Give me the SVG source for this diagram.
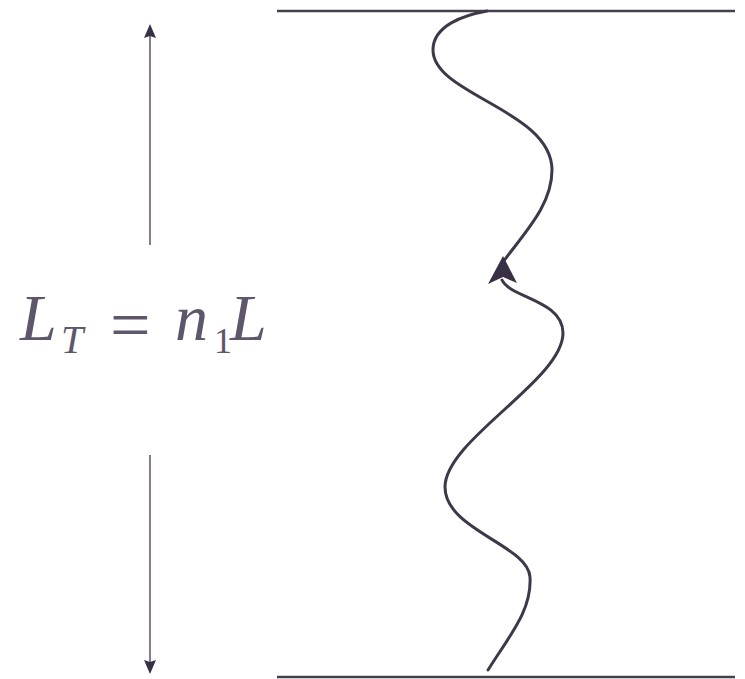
<svg xmlns="http://www.w3.org/2000/svg" width="745" height="679" viewBox="0 0 745 679">
<style>
.bound{stroke:#45404c;stroke-width:2.5;fill:none}
.dim{stroke:#6a5a78;stroke-width:1.6;fill:none}
.head{fill:#3a3045}
.wave{stroke:#3e3848;stroke-width:3;fill:none;stroke-linecap:round}
.lab{font-family:"Liberation Serif","DejaVu Serif",serif;fill:#5e566a}
</style>
<rect width="745" height="679" fill="#ffffff"/>
<g id="top-boundary"><line class="bound" x1="277" y1="11" x2="735" y2="11"/></g>
<g id="bottom-boundary"><line class="bound" x1="277" y1="677" x2="735" y2="677"/></g>
<g id="label">
<text class="lab" font-size="66"><tspan x="20" y="340" font-style="italic">L</tspan><tspan x="61" y="353" font-size="40" font-style="italic">T</tspan><tspan x="110" y="349" font-size="72">=</tspan><tspan x="175" y="340" font-style="italic">n</tspan><tspan x="214" y="353" font-size="36">1</tspan><tspan x="230" y="340" font-style="italic">L</tspan></text>
</g>
<g id="connectors">
<line class="dim" x1="150" y1="34" x2="150" y2="245"/>
<polygon class="head" points="150,24 156,38 150,36 144,38"/>
<line class="dim" x1="150" y1="455" x2="150" y2="664"/>
<polygon class="head" points="150,674 156,660 150,662 144,660"/>
<path class="wave" d="M488,670 C510,635 532,610 530,577 C528,545 445,530 445,487 C445,440 563,380 563,333 C563,300 510,298 502,280"/>
<path class="wave" d="M503,262 C525,232 552,205 552,170 C552,110 433,95 433,50 C433,25 465,15 487,11"/>
<polygon class="head" points="503,256 517,283 503,277 488,284"/>
</g>
</svg>
